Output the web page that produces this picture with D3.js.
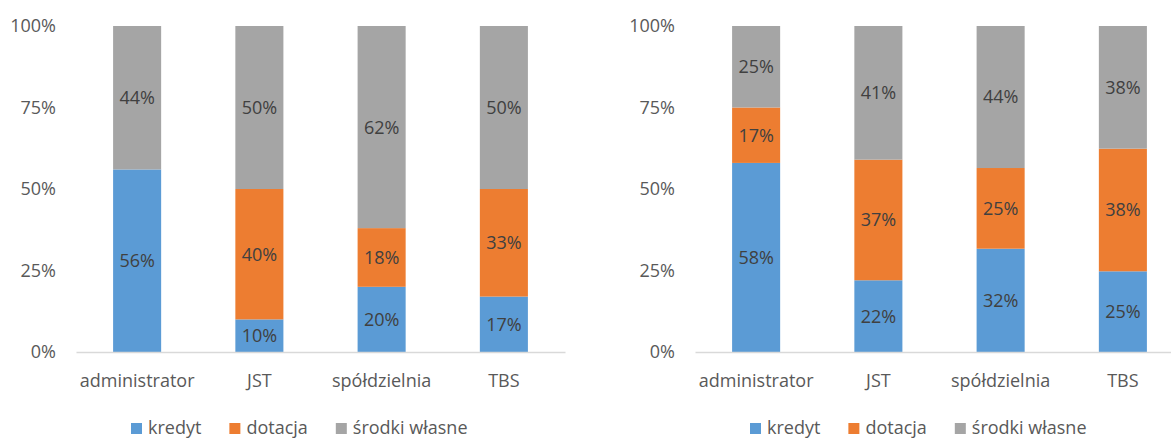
<!DOCTYPE html>
<html>
<head>
<meta charset="utf-8">
<script src="https://cdn.jsdelivr.net/npm/d3@7"></script>
<style>
  html, body { margin: 0; padding: 0; background: #fff; }
  svg { display: block; font-family: "Open Sans", sans-serif; }
</style>
</head>
<body>
<svg id="chart" width="1171" height="439"></svg>
<script>
// Categories and series
const categories = ["administrator", "JST", "spółdzielnia", "TBS"];
const seriesNames = ["kredyt", "dotacja", "środki własne"];
const seriesColors = ["#5b9bd5", "#ed7d31", "#a5a5a5"];

// Left panel shares (%)
const leftKredyt  = [56, 10, 20, 17];
const leftDotacja = [0, 40, 18, 33];
const leftWlasne  = [44, 50, 62, 50];

// Right panel shares (%)
const rightKredyt  = [58, 22, 32, 25];
const rightDotacja = [17, 37, 25, 38];
const rightWlasne  = [25, 41, 44, 38];

const yTicks = [0, 0.25, 0.5, 0.75, 1];
const yTickFormat = d3.format(".0%");

const svg = d3.select("#chart");

function rows(k, d, w) {
  return categories.map((c, i) => ({ cat: c, [seriesNames[0]]: k[i], [seriesNames[1]]: d[i], [seriesNames[2]]: w[i] }));
}

function drawPanel(data, x0, x1) {
  const g = svg.append("g");
  const yTop = 26, yBottom = 352;

  const x = d3.scaleBand().domain(categories).range([x0, x1])
    .paddingInner(0.607).paddingOuter(0.3035);
  const y = d3.scaleLinear().domain([0, 1]).range([yBottom, yTop]);

  const stack = d3.stack().keys(seriesNames).offset(d3.stackOffsetExpand);
  const layers = stack(data);

  // stacked segments
  const layerG = g.selectAll("g.layer").data(layers).join("g")
    .attr("class", "layer")
    .attr("fill", (d, i) => seriesColors[i]);
  layerG.selectAll("rect").data(d => d).join("rect")
    .attr("x", d => x(d.data.cat))
    .attr("width", x.bandwidth())
    .attr("y", d => y(d[1]))
    .attr("height", d => y(d[0]) - y(d[1]));

  // value labels
  layers.forEach(layer => {
    g.append("g").selectAll("text")
      .data(layer.filter(d => d.data[layer.key] > 0))
      .join("text")
      .attr("x", d => x(d.data.cat) + x.bandwidth() / 2)
      .attr("y", d => (y(d[0]) + y(d[1])) / 2)
      .attr("dy", "0.36em")
      .attr("text-anchor", "middle")
      .attr("font-size", 18)
      .attr("fill", "#404040")
      .text(d => d.data[layer.key] + "%");
  });

  // y axis labels
  const yAxis = g.append("g").attr("transform", `translate(${x0},0)`)
    .call(d3.axisLeft(y).tickValues(yTicks).tickFormat(yTickFormat).tickSize(0).tickPadding(20));
  yAxis.select(".domain").remove();
  yAxis.selectAll("text").attr("font-size", 18).attr("fill", "#595959")
    .attr("font-family", "Open Sans, sans-serif");

  // category axis
  const xAxis = g.append("g").attr("transform", `translate(0,${yBottom})`)
    .call(d3.axisBottom(x).tickSize(0).tickPadding(22));
  xAxis.select(".domain").attr("stroke", "#d9d9d9").attr("stroke-width", 1.5);
  xAxis.selectAll("text").attr("font-size", 18).attr("fill", "#595959")
    .attr("font-family", "Open Sans, sans-serif");

  // legend
  const leg = g.append("g").attr("transform", `translate(${x0 + 55},0)`);
  let cx = 0;
  seriesNames.forEach((name, i) => {
    leg.append("rect").attr("x", cx).attr("y", 423).attr("width", 11).attr("height", 11)
      .attr("fill", seriesColors[i]);
    const t = leg.append("text").attr("x", cx + 17).attr("y", 434)
      .attr("font-size", 18).attr("fill", "#595959").text(name);
    cx += 17 + t.node().getComputedTextLength() + 28;
  });
}

drawPanel(rows(leftKredyt, leftDotacja, leftWlasne), 76, 565);
drawPanel(rows(rightKredyt, rightDotacja, rightWlasne), 695, 1184);
</script>
</body>
</html>
